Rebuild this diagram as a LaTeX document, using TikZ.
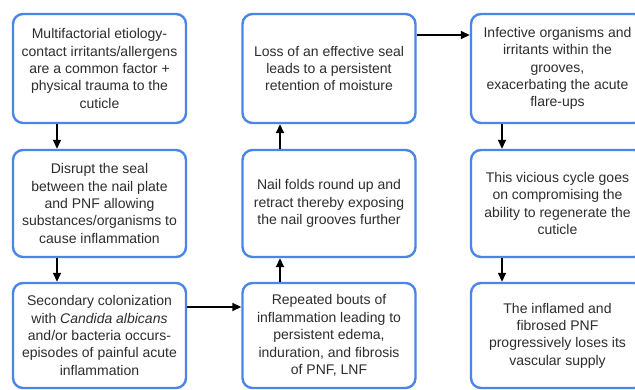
\documentclass[tikz,border=0pt]{standalone}
\usepackage{fontspec}
\setmainfont{Liberation Sans}
\usepackage{xcolor}
\usetikzlibrary{arrows.meta}
\definecolor{boxblue}{RGB}{74,134,232}
\definecolor{txtgray}{RGB}{45,45,45}
\tikzset{
  stage/.style={draw=boxblue, line width=2.4pt, rounded corners=10pt, fill=white,
    minimum width=173, align=center, inner sep=0pt, text=txtgray,
    font=\fontsize{14}{17.4}\selectfont},
  flow/.style={line width=1.5pt, -{Triangle[length=9pt,width=8pt]}}
}
\begin{document}
\begin{tikzpicture}[x=1pt,y=1pt,yscale=-1,xscale=1]
%set diagram at 0, 635 wide and 390 high
\clip (0,0) rectangle (635,390);
\fill[white] (0,0) rectangle (635,390);
%Shape: Rounded Rectangle, top row
\node[stage, minimum height=109] (cause) at (99.5,68.5) {Multifactorial etiology-\\contact irritants/allergens\\are a common factor +\\physical trauma to the\\cuticle};
\node[stage, minimum height=109] (loss) at (329,68.5) {Loss of an effective seal\\leads to a persistent\\retention of moisture};
\node[stage, minimum height=109] (infect) at (557.5,68.5) {Infective organisms and\\irritants within the\\grooves,\\exacerbating the acute\\flare-ups};
%Shape: Rounded Rectangle, middle row
\node[stage, minimum height=107] (seal) at (99.5,203.5) {Disrupt the seal\\between the nail plate\\and PNF allowing\\substances/organisms to\\cause inflammation};
\node[stage, minimum height=107] (folds) at (329,203.5) {Nail folds round up and\\retract thereby exposing\\the nail grooves further};
\node[stage, minimum height=107] (cycle) at (557.5,203.5) {This vicious cycle goes\\on compromising the\\ability to regenerate the\\cuticle};
%Shape: Rounded Rectangle, bottom row
\node[stage, minimum height=105] (colon) at (99.5,335.5) {Secondary colonization\\with \textit{Candida albicans}\\and/or bacteria occurs-\\episodes of painful acute\\inflammation};
\node[stage, minimum height=105] (bouts) at (329,335.5) {Repeated bouts of\\inflammation leading to\\persistent edema,\\induration, and fibrosis\\of PNF, LNF};
\node[stage, minimum height=105] (supply) at (557.5,335.5) {The inflamed and\\fibrosed PNF\\progressively loses its\\vascular supply};
%Straight Lines, first column
\draw[flow] ([xshift=-42.5]cause.south) -- ([xshift=-42.5]seal.north);
\draw[flow] ([xshift=-42.5]seal.south) -- ([xshift=-42.5]colon.north);
%Straight Lines, across the bottom
\draw[flow] ([yshift=-28.5]colon.east) -- ([yshift=-28.5]bouts.west);
%Straight Lines, second column
\draw[flow] ([xshift=-49]bouts.north) -- ([xshift=-49]folds.south);
\draw[flow] ([xshift=-49]folds.north) -- ([xshift=-49]loss.south);
%Straight Lines, across the top
\draw[flow] ([yshift=-33.5]loss.east) -- ([yshift=-33.5]infect.west);
%Straight Lines, third column
\draw[flow] ([xshift=-55.5]infect.south) -- ([xshift=-55.5]cycle.north);
\draw[flow] ([xshift=-55.5]cycle.south) -- ([xshift=-55.5]supply.north);
\end{tikzpicture}
\end{document}
